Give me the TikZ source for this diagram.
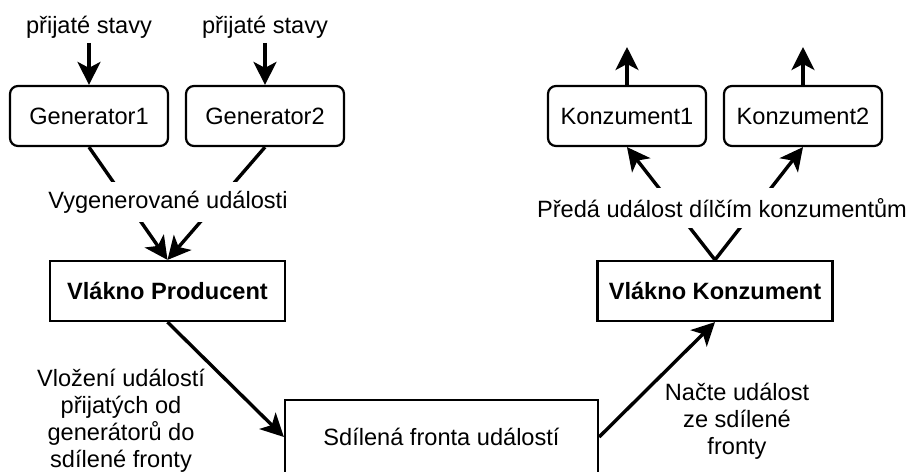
\documentclass[tikz,border=0pt]{standalone}
\usepackage{fontspec}
\setmainfont{Liberation Sans}
\usetikzlibrary{arrows.meta}
\begin{document}
\begin{tikzpicture}[x=0.5pt,y=-0.5pt,
  every node/.style={font=\fontsize{11.8}{13.5}\selectfont},
  gen/.style={draw, line width=1.1pt, rounded corners=4pt, minimum width=79pt, minimum height=30pt, inner sep=0pt},
  thread/.style={draw, line width=1.1pt, minimum width=117.5pt, minimum height=30pt, inner sep=0pt, font=\fontsize{11.8}{13.5}\selectfont\bfseries},
  queue/.style={draw, line width=1.1pt, minimum width=156.5pt, minimum height=37pt, inner sep=0pt},
  flow/.style={line width=1.7pt, -{Stealth[length=11.5pt,width=11.5pt,inset=3pt]}},
  note/.style={align=center, inner sep=0pt},
  cover/.style={fill=white, inner xsep=2pt, inner ysep=0pt, minimum height=20pt}
]
\useasboundingbox (0,0) rectangle (907,472);

% boxes
\node[gen] (gen1) at (89,116) {Generator1};
\node[gen] (gen2) at (265,116) {Generator2};
\node[gen] (kon1) at (627,116) {Konzument1};
\node[gen] (kon2) at (803,116) {Konzument2};
\node[thread] (prod) at (167.5,291) {Vlákno Producent};
\node[thread] (cons) at (715,291) {Vlákno Konzument};
\node[queue] (queue) at (441.5,437) {Sdílená fronta událostí};

% inputs and outputs
\node[anchor=base, inner sep=2.3pt] (in1) at (89,33) {přijaté stavy};
\node[anchor=base, inner sep=2.3pt] (in2) at (265,33) {přijaté stavy};
\coordinate (out1) at (627,47);
\coordinate (out2) at (803,47);

% connectors
\draw[flow] (in1.south) -- (gen1.north);
\draw[flow] (in2.south) -- (gen2.north);
\draw[flow] (kon1.north) -- (out1);
\draw[flow] (kon2.north) -- (out2);
\draw[flow] (gen1.south) -- (prod.north);
\draw[flow] (gen2.south) -- (prod.north);
\draw[flow] (cons.north) -- (kon1.south);
\draw[flow] (cons.north) -- (kon2.south);
\draw[flow] (prod.south) -- (queue.west);
\draw[flow] (queue.east) -- (cons.south);

% edge labels
\node[cover] (genlabel) at (168,202) {Vygenerované události};
\node[cover] (konlabel) at (722,208) {Předá událost dílčím konzumentům};
\node[note] (putlabel) at (121,421) {Vložení událostí\\přijatých od\\generátorů do\\sdílené fronty};
\node[note] (readlabel) at (737,421) {Načte událost\\ze sdílené\\fronty};
\end{tikzpicture}
\end{document}
